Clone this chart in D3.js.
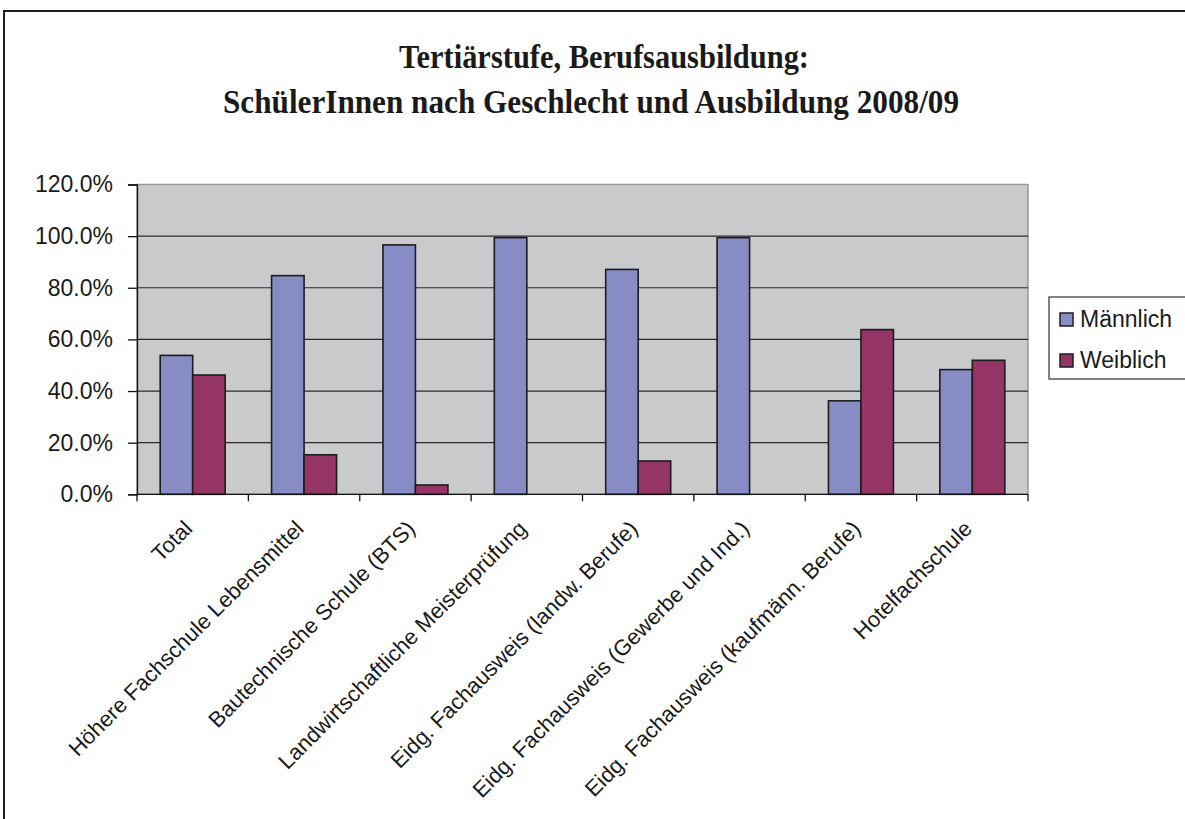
<!DOCTYPE html>
<html>
<head>
<meta charset="utf-8">
<script src="https://cdn.jsdelivr.net/npm/d3@7/dist/d3.min.js"></script>
<style>
  html, body { margin: 0; padding: 0; background: #fff; }
  svg { display: block; }
</style>
</head>
<body>
<svg id="chart" width="1185" height="819"></svg>
<script>
const titleLines = ["Tertiärstufe, Berufsausbildung:", "SchülerInnen nach Geschlecht und Ausbildung 2008/09"];
const categories = [
  "Total",
  "Höhere Fachschule Lebensmittel",
  "Bautechnische Schule (BTS)",
  "Landwirtschaftliche Meisterprüfung",
  "Eidg. Fachausweis (landw. Berufe)",
  "Eidg. Fachausweis (Gewerbe und Ind.)",
  "Eidg. Fachausweis (kaufmänn. Berufe)",
  "Hotelfachschule"
];
const seriesNames = ["Männlich", "Weiblich"];
const maleValues   = [0.538, 0.847, 0.966, 0.994, 0.871, 0.994, 0.362, 0.483];
const femaleValues = [0.462, 0.153, 0.036, 0.0,   0.129, 0.0,   0.638, 0.519];
const yTicks = [0, 0.2, 0.4, 0.6, 0.8, 1.0, 1.2];
const seriesColors = ["#878cc4", "#943566"];

const svg = d3.select("#chart");
const plot = { left: 137, right: 1028, top: 184.5, bottom: 494.3 };

// outer frame
svg.append("path")
  .attr("d", "M4,830 L4,11 L1195,11")
  .attr("fill", "none").attr("stroke", "#1e1e1e").attr("stroke-width", 2);

// title
const titleCenters = [604, 591];
const titleBaselines = [68, 113];
const titleLengths = [410, 736];
titleLines.forEach((t, i) => {
  svg.append("text")
    .attr("x", titleCenters[i]).attr("y", titleBaselines[i])
    .attr("text-anchor", "middle")
    .attr("font-family", "'Liberation Serif', 'Times New Roman', serif")
    .attr("font-weight", "bold").attr("font-size", 33)
    .attr("textLength", titleLengths[i]).attr("lengthAdjust", "spacingAndGlyphs")
    .attr("fill", "#1a1a1a")
    .text(t);
});

const x0 = d3.scaleBand().domain(categories).range([plot.left, plot.right]).padding(0);
const x1 = d3.scaleBand().domain(seriesNames).range([0, x0.bandwidth()]).paddingInner(0).paddingOuter(0.714);
const y = d3.scaleLinear().domain([0, 1.2]).range([plot.bottom, plot.top]);

// plot background
svg.append("rect")
  .attr("x", plot.left).attr("y", plot.top)
  .attr("width", plot.right - plot.left).attr("height", plot.bottom - plot.top)
  .attr("fill", "#c9cacc").attr("stroke", "#9a9a9a").attr("stroke-width", 1.5);

// gridlines
svg.append("g").selectAll("line")
  .data(yTicks.filter(v => v > 0 && v < 1.2))
  .join("line")
  .attr("x1", plot.left).attr("x2", plot.right)
  .attr("y1", d => y(d)).attr("y2", d => y(d))
  .attr("stroke", "#2b2b2b").attr("stroke-width", 1.2);

// bars
const data = categories.map((c, i) => ({ cat: c, vals: [maleValues[i], femaleValues[i]] }));
const groups = svg.append("g").selectAll("g")
  .data(data).join("g")
  .attr("transform", d => `translate(${x0(d.cat)},0)`);
groups.selectAll("rect")
  .data(d => d.vals.map((v, j) => ({ v, s: seriesNames[j], j })).filter(e => e.v > 0))
  .join("rect")
  .attr("x", e => x1(e.s))
  .attr("width", x1.bandwidth())
  .attr("y", e => y(e.v))
  .attr("height", e => y(0) - y(e.v))
  .attr("fill", e => seriesColors[e.j])
  .attr("stroke", "#1c1c1c").attr("stroke-width", 1.6);

// y axis
const yAxis = svg.append("g")
  .attr("transform", `translate(${plot.left},0)`)
  .call(d3.axisLeft(y).tickValues(yTicks).tickFormat(d3.format(".1%")).tickSize(9).tickPadding(15));
yAxis.select(".domain").attr("stroke", "#111").attr("stroke-width", 1.3);
yAxis.selectAll(".tick line").attr("stroke", "#111").attr("stroke-width", 1.3);
yAxis.selectAll(".tick text")
  .attr("font-family", "'Liberation Sans', Arial, sans-serif")
  .attr("font-size", 23).attr("fill", "#1a1a1a");

// x axis line and ticks at category boundaries
const xAxisG = svg.append("g");
xAxisG.append("line")
  .attr("x1", plot.left).attr("x2", plot.right)
  .attr("y1", plot.bottom).attr("y2", plot.bottom)
  .attr("stroke", "#111").attr("stroke-width", 1.3);
const boundaries = categories.map(c => x0(c)).concat([x0.range()[1]]);
xAxisG.selectAll("line.tk")
  .data(boundaries).join("line").attr("class", "tk")
  .attr("x1", d => d).attr("x2", d => d)
  .attr("y1", plot.bottom).attr("y2", plot.bottom + 7)
  .attr("stroke", "#111").attr("stroke-width", 1.3);

// x labels
xAxisG.selectAll("text")
  .data(categories).join("text")
  .attr("transform", d => `translate(${x0(d) + x0.bandwidth() / 2 + 1},530) rotate(-45)`)
  .attr("text-anchor", "end")
  .attr("font-family", "'Liberation Sans', Arial, sans-serif")
  .attr("font-size", 22).attr("fill", "#1a1a1a")
  .text(d => d);

// legend
const legend = svg.append("g");
legend.append("rect")
  .attr("x", 1049).attr("y", 297).attr("width", 160).attr("height", 82)
  .attr("fill", "#fff").attr("stroke", "#333").attr("stroke-width", 1.2);
seriesNames.forEach((s, i) => {
  legend.append("rect")
    .attr("x", 1060).attr("y", 313 + i * 41).attr("width", 13).attr("height", 13)
    .attr("fill", seriesColors[i]).attr("stroke", "#1c1c1c").attr("stroke-width", 1.5);
  legend.append("text")
    .attr("x", 1080).attr("y", 327 + i * 40.5)
    .attr("font-family", "'Liberation Sans', Arial, sans-serif")
    .attr("font-size", 23).attr("fill", "#1a1a1a")
    .text(s);
});
</script>
</body>
</html>
